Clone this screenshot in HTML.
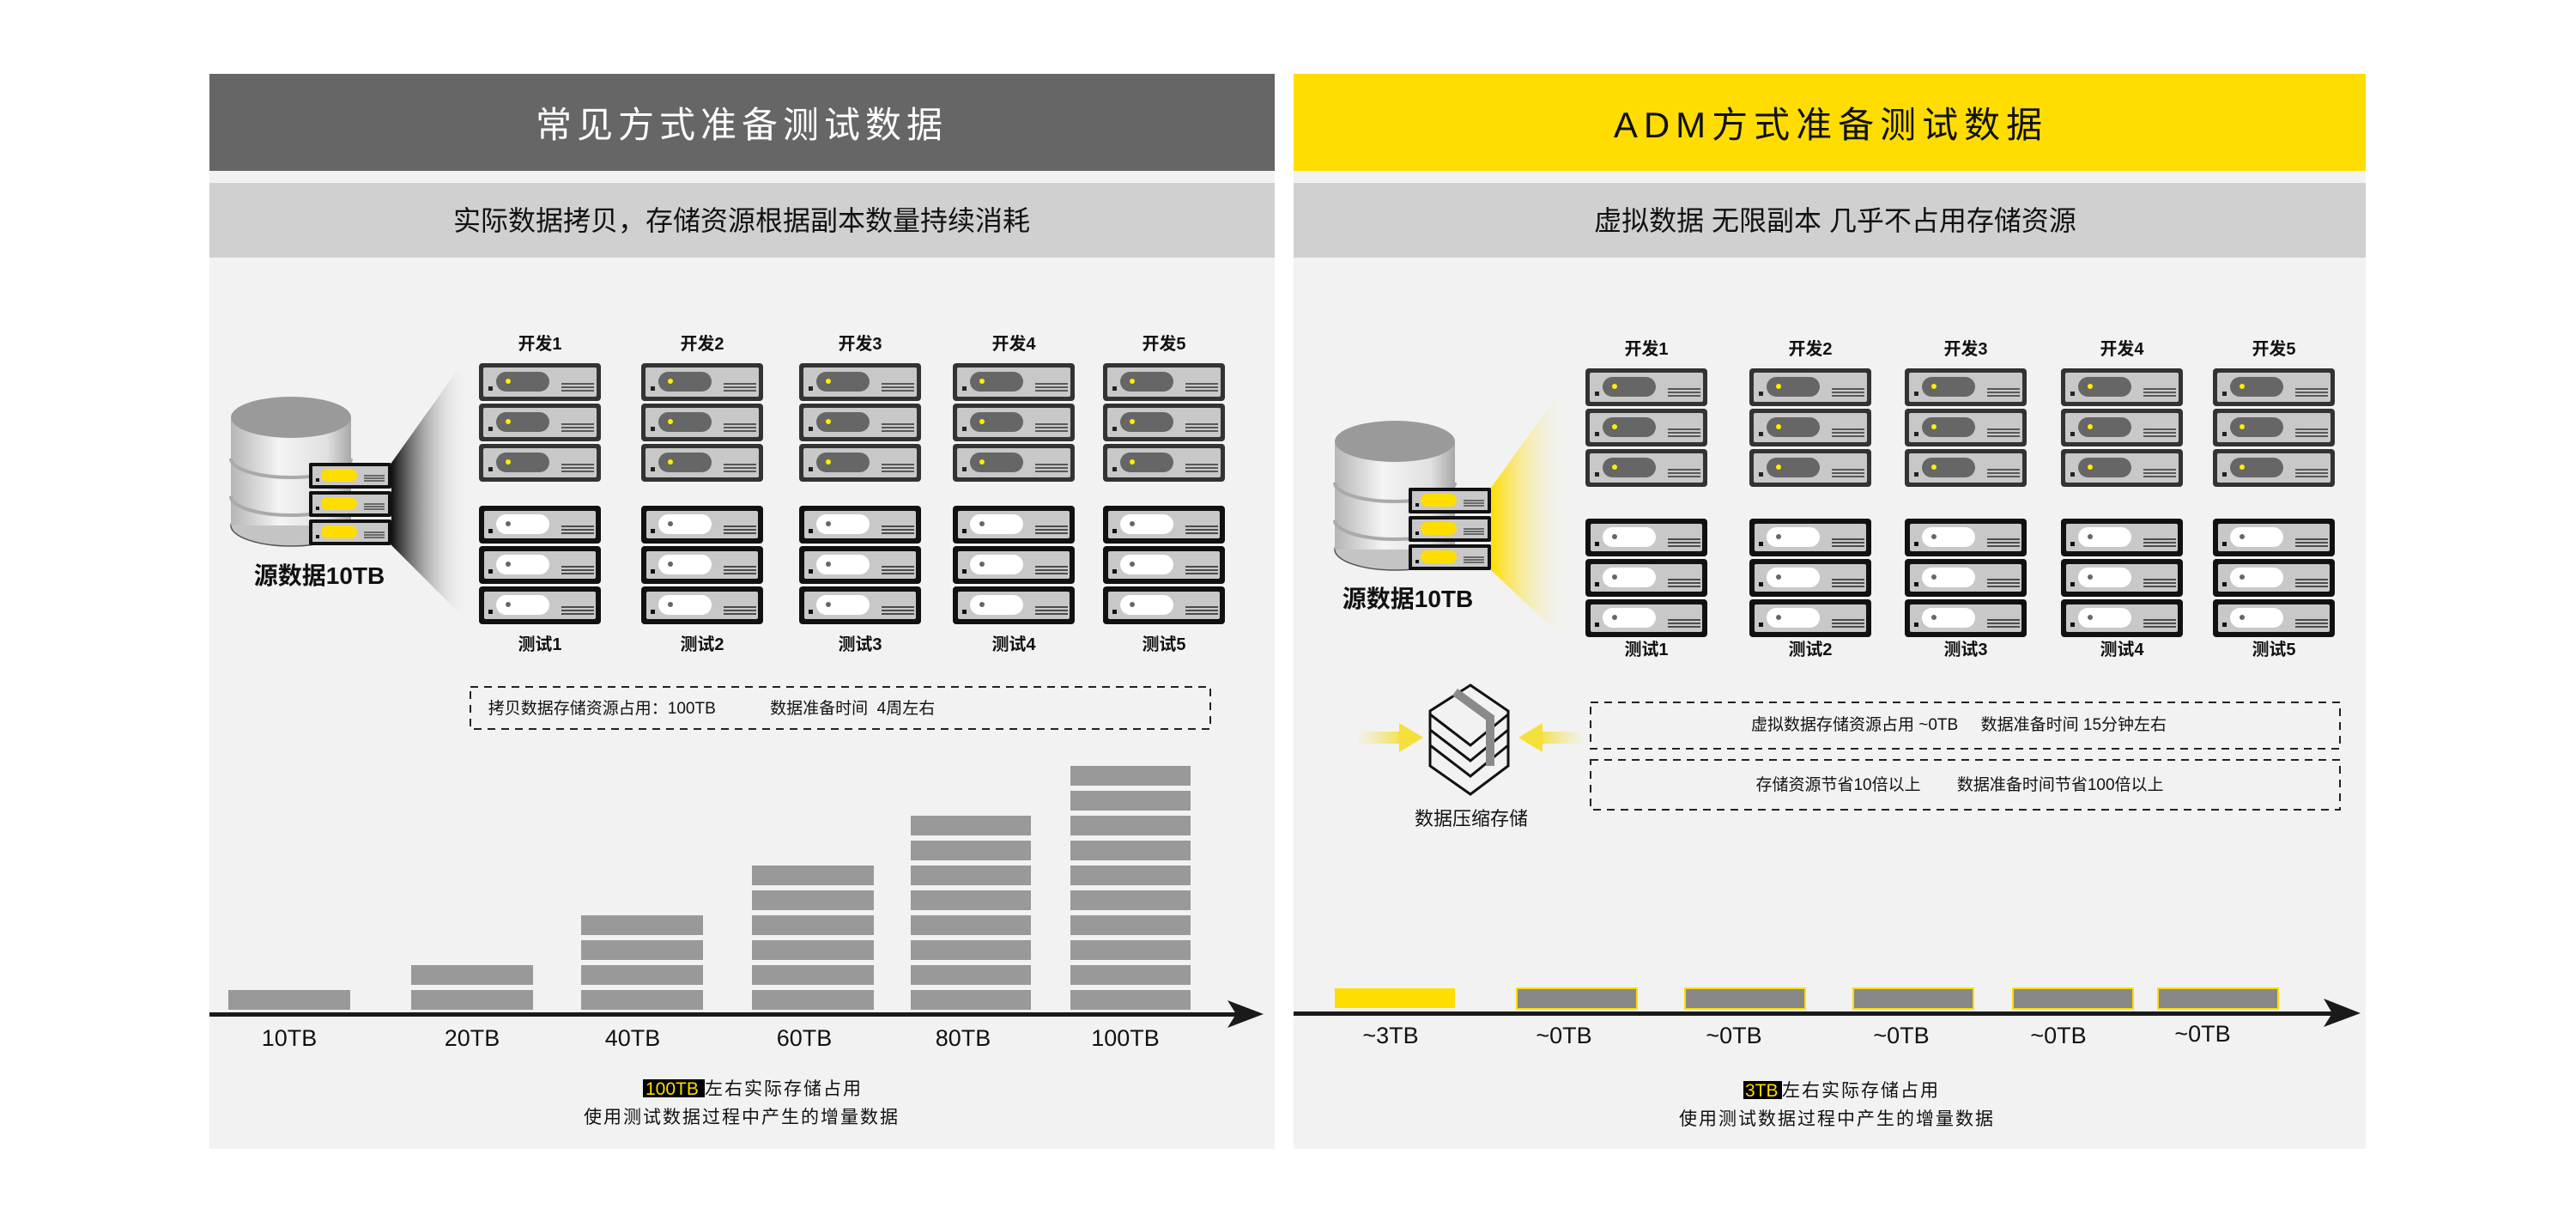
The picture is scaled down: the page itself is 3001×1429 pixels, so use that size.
<!DOCTYPE html>
<html><head><meta charset="utf-8"><style>
html,body{margin:0;padding:0;background:#fff;}
svg{display:block;}
text{font-family:"Liberation Sans","Noto Sans CJK SC",sans-serif;}
</style></head><body>
<svg width="3001" height="1429" viewBox="0 0 3001 1429" xmlns="http://www.w3.org/2000/svg">
<defs>
  <g id="dev">
    <rect x="0" y="0" width="142" height="44" rx="4" fill="#333"/>
    <rect x="5" y="5" width="132" height="34" rx="2" fill="#c8c8c8"/>
    <rect x="11" y="27" width="5" height="5" fill="#222"/>
    <rect x="20" y="10" width="62" height="23" rx="11.5" fill="#666"/>
    <circle cx="34" cy="21" r="3" fill="#ffee00"/>
    <g stroke="#333" stroke-width="1.6"><line x1="96" y1="24" x2="134" y2="24"/><line x1="96" y1="28" x2="134" y2="28"/><line x1="96" y1="32" x2="134" y2="32"/></g>
  </g>
  <g id="test">
    <rect x="0" y="0" width="142" height="44" rx="4" fill="#111"/>
    <rect x="6" y="6" width="130" height="32" rx="2" fill="#c8c8c8"/>
    <rect x="11" y="27" width="5" height="5" fill="#111"/>
    <rect x="20" y="10" width="62" height="23" rx="11.5" fill="#fff"/>
    <circle cx="34" cy="21" r="3" fill="#666"/>
    <g stroke="#222" stroke-width="1.6"><line x1="96" y1="24" x2="134" y2="24"/><line x1="96" y1="28" x2="134" y2="28"/><line x1="96" y1="32" x2="134" y2="32"/></g>
  </g>
  <g id="ysrv">
    <rect x="0" y="0" width="96" height="30" rx="2" fill="#111"/>
    <rect x="4" y="4" width="88" height="22" fill="#c8c8c8"/>
    <rect x="8" y="18" width="4" height="4" fill="#111"/>
    <rect x="14" y="7" width="42" height="15" rx="7.5" fill="#ffdd00"/>
    <g stroke="#333" stroke-width="1.3"><line x1="64" y1="15" x2="88" y2="15"/><line x1="64" y1="18" x2="88" y2="18"/><line x1="64" y1="21" x2="88" y2="21"/></g>
  </g>
  <linearGradient id="cyl" x1="0" x2="1" y1="0" y2="0">
    <stop offset="0" stop-color="#b5b5b5"/><stop offset="0.4" stop-color="#f4f4f4"/><stop offset="0.8" stop-color="#e0e0e0"/><stop offset="1" stop-color="#a8a8a8"/>
  </linearGradient>
  <linearGradient id="coneK" x1="0" x2="1" y1="0" y2="0">
    <stop offset="0" stop-color="#111"/><stop offset="1" stop-color="#f2f2f2" stop-opacity="0"/>
  </linearGradient>
  <linearGradient id="coneY" x1="0" x2="1" y1="0" y2="0">
    <stop offset="0" stop-color="#ffdd00"/><stop offset="1" stop-color="#f2f2f2" stop-opacity="0"/>
  </linearGradient>
  <linearGradient id="arrL" x1="0" x2="1"><stop offset="0" stop-color="#f2e27a" stop-opacity="0"/><stop offset="1" stop-color="#f5e03a"/></linearGradient>
  <linearGradient id="arrR" x1="1" x2="0"><stop offset="0" stop-color="#f2e27a" stop-opacity="0"/><stop offset="1" stop-color="#f5e03a"/></linearGradient>
  <g id="db">
    <ellipse cx="70" cy="150" rx="70" ry="24" fill="#c4c4c4" stroke="#555" stroke-width="1.5"/>
    <rect x="0" y="24" width="140" height="126" fill="url(#cyl)"/>
    <path d="M0 72 A70 22 0 0 0 140 72" fill="none" stroke="#aaa" stroke-width="4"/>
    <path d="M0 116 A70 22 0 0 0 140 116" fill="none" stroke="#aaa" stroke-width="4"/>
    <ellipse cx="70" cy="24" rx="70" ry="24" fill="#9a9a9a"/>
  </g>
</defs>

<!-- LEFT PANEL -->
<rect x="244" y="86" width="1241" height="1252" fill="#f2f2f2"/>
<rect x="244" y="86" width="1241" height="113" fill="#666"/>
<rect x="244" y="213" width="1241" height="87" fill="#d0d0d0"/>
<text x="864" y="160" text-anchor="middle" font-size="42" fill="#fff" letter-spacing="6">常见方式准备测试数据</text>
<text x="864" y="268" text-anchor="middle" font-size="32" fill="#111">实际数据拷贝，存储资源根据副本数量持续消耗</text>

<polygon points="456,539 545,414 545,724 456,635" fill="url(#coneK)"/>
<use href="#db" x="269" y="462"/>
<use href="#ysrv" x="360" y="539"/>
<use href="#ysrv" x="360" y="572"/>
<use href="#ysrv" x="360" y="605"/>
<text x="372" y="680" text-anchor="middle" font-size="28" font-weight="bold" fill="#111">源数据10TB</text>

<g font-size="20" font-weight="bold" fill="#111" text-anchor="middle">
<text x="629" y="407">开发1</text><text x="818" y="407">开发2</text><text x="1002" y="407">开发3</text><text x="1181" y="407">开发4</text><text x="1356" y="407">开发5</text>
<text x="629" y="757">测试1</text><text x="818" y="757">测试2</text><text x="1002" y="757">测试3</text><text x="1181" y="757">测试4</text><text x="1356" y="757">测试5</text>
</g>
<g>
<use href="#dev" x="558" y="423"/><use href="#dev" x="558" y="470"/><use href="#dev" x="558" y="517"/>
<use href="#dev" x="747" y="423"/><use href="#dev" x="747" y="470"/><use href="#dev" x="747" y="517"/>
<use href="#dev" x="931" y="423"/><use href="#dev" x="931" y="470"/><use href="#dev" x="931" y="517"/>
<use href="#dev" x="1110" y="423"/><use href="#dev" x="1110" y="470"/><use href="#dev" x="1110" y="517"/>
<use href="#dev" x="1285" y="423"/><use href="#dev" x="1285" y="470"/><use href="#dev" x="1285" y="517"/>
<use href="#test" x="558" y="589"/><use href="#test" x="558" y="636"/><use href="#test" x="558" y="683"/>
<use href="#test" x="747" y="589"/><use href="#test" x="747" y="636"/><use href="#test" x="747" y="683"/>
<use href="#test" x="931" y="589"/><use href="#test" x="931" y="636"/><use href="#test" x="931" y="683"/>
<use href="#test" x="1110" y="589"/><use href="#test" x="1110" y="636"/><use href="#test" x="1110" y="683"/>
<use href="#test" x="1285" y="589"/><use href="#test" x="1285" y="636"/><use href="#test" x="1285" y="683"/>
</g>

<rect x="548" y="800" width="862" height="49" fill="none" stroke="#222" stroke-width="2" stroke-dasharray="9,7"/>
<text x="829" y="831" text-anchor="middle" font-size="19" fill="#111" xml:space="preserve">拷贝数据存储资源占用：100TB            数据准备时间  4周左右</text>

<g fill="#999">
<rect x="266" y="1153" width="142" height="23"/>
<rect x="479" y="1153" width="142" height="23"/><rect x="479" y="1124" width="142" height="23"/>
<rect x="677" y="1153" width="142" height="23"/><rect x="677" y="1124" width="142" height="23"/><rect x="677" y="1095" width="142" height="23"/><rect x="677" y="1066" width="142" height="23"/>
<rect x="876" y="1153" width="142" height="23"/><rect x="876" y="1124" width="142" height="23"/><rect x="876" y="1095" width="142" height="23"/><rect x="876" y="1066" width="142" height="23"/><rect x="876" y="1037" width="142" height="23"/><rect x="876" y="1008" width="142" height="23"/>
<rect x="1061" y="1153" width="140" height="23"/><rect x="1061" y="1124" width="140" height="23"/><rect x="1061" y="1095" width="140" height="23"/><rect x="1061" y="1066" width="140" height="23"/><rect x="1061" y="1037" width="140" height="23"/><rect x="1061" y="1008" width="140" height="23"/><rect x="1061" y="979" width="140" height="23"/><rect x="1061" y="950" width="140" height="23"/>
<rect x="1247" y="1153" width="140" height="23"/><rect x="1247" y="1124" width="140" height="23"/><rect x="1247" y="1095" width="140" height="23"/><rect x="1247" y="1066" width="140" height="23"/><rect x="1247" y="1037" width="140" height="23"/><rect x="1247" y="1008" width="140" height="23"/><rect x="1247" y="979" width="140" height="23"/><rect x="1247" y="950" width="140" height="23"/><rect x="1247" y="921" width="140" height="23"/><rect x="1247" y="892" width="140" height="23"/>
</g>
<rect x="244" y="1179" width="1210" height="5" fill="#1a1a1a"/>
<polygon points="1430,1165 1472,1181 1430,1197 1440,1181" fill="#1a1a1a"/>
<g font-size="27" fill="#111" text-anchor="middle">
<text x="337" y="1218">10TB</text><text x="550" y="1218">20TB</text><text x="737" y="1218">40TB</text><text x="937" y="1218">60TB</text><text x="1122" y="1218">80TB</text><text x="1311" y="1218">100TB</text>
</g>
<rect x="749" y="1257" width="72" height="21" fill="#000"/>
<text x="752" y="1275" font-size="21" fill="#ffdd00">100TB</text>
<text x="821" y="1275" font-size="21" fill="#111" letter-spacing="2">左右实际存储占用</text>
<text x="864" y="1308" text-anchor="middle" font-size="21" fill="#111" letter-spacing="2">使用测试数据过程中产生的增量数据</text>

<!-- RIGHT PANEL -->
<rect x="1507" y="86" width="1249" height="1252" fill="#f2f2f2"/>
<rect x="1507" y="86" width="1249" height="113" fill="#ffdd00"/>
<rect x="1507" y="213" width="1249" height="87" fill="#d0d0d0"/>
<text x="2133" y="160" text-anchor="middle" font-size="42" fill="#111" letter-spacing="7">ADM方式准备测试数据</text>
<text x="2138" y="268" text-anchor="middle" font-size="32" fill="#111">虚拟数据 无限副本 几乎不占用存储资源</text>

<polygon points="1737,568 1828,442 1828,750 1737,664" fill="url(#coneY)"/>
<use href="#db" x="1555" y="490"/>
<use href="#ysrv" x="1641" y="568"/>
<use href="#ysrv" x="1641" y="601"/>
<use href="#ysrv" x="1641" y="634"/>
<text x="1640" y="707" text-anchor="middle" font-size="28" font-weight="bold" fill="#111">源数据10TB</text>

<g font-size="20" font-weight="bold" fill="#111" text-anchor="middle">
<text x="1918" y="413">开发1</text><text x="2109" y="413">开发2</text><text x="2290" y="413">开发3</text><text x="2472" y="413">开发4</text><text x="2649" y="413">开发5</text>
<text x="1918" y="763">测试1</text><text x="2109" y="763">测试2</text><text x="2290" y="763">测试3</text><text x="2472" y="763">测试4</text><text x="2649" y="763">测试5</text>
</g>
<g>
<use href="#dev" x="1847" y="429"/><use href="#dev" x="1847" y="476"/><use href="#dev" x="1847" y="523"/>
<use href="#dev" x="2038" y="429"/><use href="#dev" x="2038" y="476"/><use href="#dev" x="2038" y="523"/>
<use href="#dev" x="2219" y="429"/><use href="#dev" x="2219" y="476"/><use href="#dev" x="2219" y="523"/>
<use href="#dev" x="2401" y="429"/><use href="#dev" x="2401" y="476"/><use href="#dev" x="2401" y="523"/>
<use href="#dev" x="2578" y="429"/><use href="#dev" x="2578" y="476"/><use href="#dev" x="2578" y="523"/>
<use href="#test" x="1847" y="604"/><use href="#test" x="1847" y="651"/><use href="#test" x="1847" y="698"/>
<use href="#test" x="2038" y="604"/><use href="#test" x="2038" y="651"/><use href="#test" x="2038" y="698"/>
<use href="#test" x="2219" y="604"/><use href="#test" x="2219" y="651"/><use href="#test" x="2219" y="698"/>
<use href="#test" x="2401" y="604"/><use href="#test" x="2401" y="651"/><use href="#test" x="2401" y="698"/>
<use href="#test" x="2578" y="604"/><use href="#test" x="2578" y="651"/><use href="#test" x="2578" y="698"/>
</g>

<!-- compress icon -->
<rect x="1580" y="852" width="55" height="14" fill="url(#arrL)"/>
<polygon points="1630,842 1658,859 1630,876" fill="#f5e03a"/>
<rect x="1792" y="852" width="55" height="14" fill="url(#arrR)"/>
<polygon points="1797,842 1769,859 1797,876" fill="#f5e03a"/>
<g fill="none" stroke="#111" stroke-width="3">
<polygon points="1713,798 1757,828 1757,892 1713,925 1666,892 1666,828"/>
<polyline points="1666,850 1713,886 1757,850"/>
<polyline points="1666,868 1713,904 1757,868"/>
<polyline points="1666,832 1713,868 1757,832"/>
</g>
<polyline points="1695,806 1736,836 1736,892" fill="none" stroke="#8a8a8a" stroke-width="10"/>
<text x="1714" y="961" text-anchor="middle" font-size="22" fill="#111">数据压缩存储</text>

<rect x="1853" y="818" width="873" height="54" fill="none" stroke="#222" stroke-width="2" stroke-dasharray="9,7"/>
<text x="2282" y="850" text-anchor="middle" font-size="19" fill="#111" xml:space="preserve">虚拟数据存储资源占用 ~0TB     数据准备时间 15分钟左右</text>
<rect x="1853" y="885" width="873" height="58" fill="none" stroke="#222" stroke-width="2" stroke-dasharray="9,7"/>
<text x="2283" y="920" text-anchor="middle" font-size="19" fill="#111" xml:space="preserve">存储资源节省10倍以上        数据准备时间节省100倍以上</text>

<rect x="1555" y="1151" width="140" height="23" fill="#ffdd00"/>
<g fill="#888" stroke="#ffdd00" stroke-width="2">
<rect x="1767" y="1151" width="140" height="24"/>
<rect x="1963" y="1151" width="140" height="24"/>
<rect x="2159" y="1151" width="140" height="24"/>
<rect x="2345" y="1151" width="140" height="24"/>
<rect x="2514" y="1151" width="140" height="24"/>
</g>
<rect x="1507" y="1178" width="1230" height="5" fill="#1a1a1a"/>
<polygon points="2707,1163 2750,1180 2707,1196 2717,1180" fill="#1a1a1a"/>
<g font-size="27" fill="#111" text-anchor="middle">
<text x="1620" y="1215">~3TB</text><text x="1822" y="1215">~0TB</text><text x="2020" y="1215">~0TB</text><text x="2215" y="1215">~0TB</text><text x="2398" y="1215">~0TB</text><text x="2566" y="1213">~0TB</text>
</g>
<rect x="2031" y="1259" width="45" height="21" fill="#000"/>
<text x="2033" y="1277" font-size="21" fill="#ffdd00">3TB</text>
<text x="2076" y="1277" font-size="21" fill="#111" letter-spacing="2">左右实际存储占用</text>
<text x="2140" y="1310" text-anchor="middle" font-size="21" fill="#111" letter-spacing="2">使用测试数据过程中产生的增量数据</text>
</svg>
</body></html>
